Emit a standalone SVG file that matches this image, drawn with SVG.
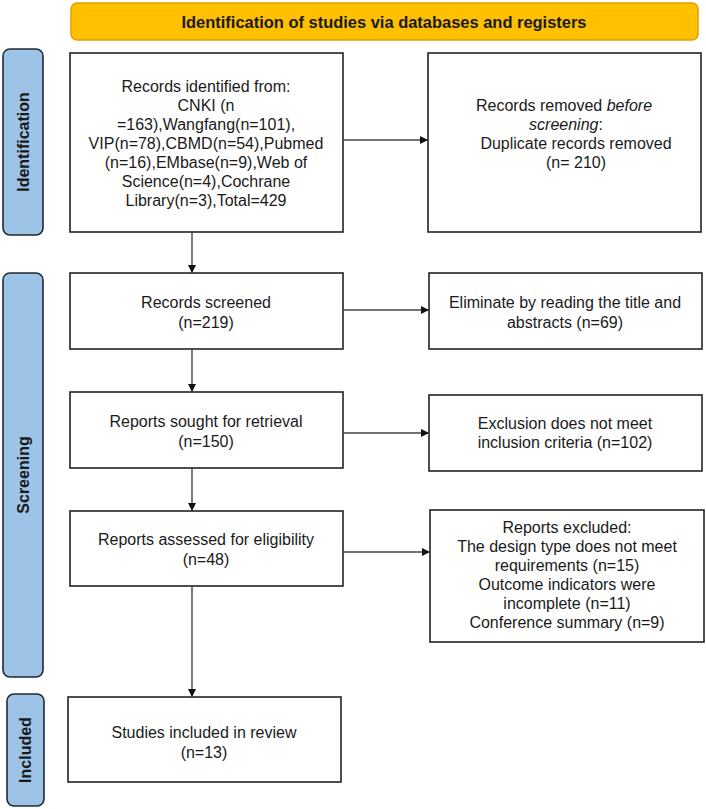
<svg xmlns="http://www.w3.org/2000/svg" width="706" height="809" viewBox="0 0 706 809">
<defs>
<marker id="ah" viewBox="0 0 10 10" refX="10" refY="5" markerWidth="8" markerHeight="8" markerUnits="userSpaceOnUse" orient="auto">
<path d="M0,0 L10,5 L0,10 z" fill="#111"/>
</marker>
<style>
.box{fill:#fff;stroke:#222;stroke-width:1.6}
.bar{fill:#9DC3E6;stroke:#1e2a36;stroke-width:1.6}
.t{font-family:"Liberation Sans",Arial,sans-serif;font-size:16px;fill:#1a1a1a;text-anchor:middle}
.lbl{font-family:"Liberation Sans",Arial,sans-serif;font-size:16px;font-weight:bold;fill:#1a1a1a;text-anchor:middle}
.c{fill:none;stroke:#444;stroke-width:1.4;marker-end:url(#ah)}
</style>
</defs>
<rect width="706" height="809" fill="#fff"/>
<g id="banner">
<rect x="71" y="3" width="627" height="37" rx="6" fill="#FFC000" stroke="#E0A000" stroke-width="1.5"/>
<text class="lbl" x="384" y="28" font-size="17" textLength="405" lengthAdjust="spacingAndGlyphs">Identification of studies via databases and registers</text>
</g>
<g id="phase-identification">
<rect class="bar" x="3" y="49" width="40" height="186" rx="7"/>
<text class="lbl" transform="translate(29,142) rotate(-90)">Identification</text>
</g>
<g id="phase-screening">
<rect class="bar" x="3" y="273" width="40" height="404" rx="7"/>
<text class="lbl" transform="translate(29,475) rotate(-90)">Screening</text>
</g>
<g id="phase-included">
<rect class="bar" x="7" y="694" width="37" height="112" rx="7"/>
<text class="lbl" transform="translate(31,750) rotate(-90)">Included</text>
</g>
<g id="records-identified">
<rect class="box" x="70" y="53" width="273" height="179"/>
<text class="t" x="206" y="92">Records identified from:</text>
<text class="t" x="206" y="111">CNKI (n</text>
<text class="t" x="206" y="130">=163),Wangfang(n=101),</text>
<text class="t" x="206" y="149">VIP(n=78),CBMD(n=54),Pubmed</text>
<text class="t" x="206" y="168">(n=16),EMbase(n=9),Web of</text>
<text class="t" x="206" y="187">Science(n=4),Cochrane</text>
<text class="t" x="206" y="206">Library(n=3),Total=429</text>
</g>
<g id="records-removed">
<rect class="box" x="428" y="53" width="273" height="179"/>
<text class="t" x="564" y="111">Records removed <tspan font-style="italic">before</tspan></text>
<text class="t" x="566" y="130"><tspan font-style="italic">screening</tspan>:</text>
<text class="t" x="576" y="149">Duplicate records removed</text>
<text class="t" x="576" y="168">(n= 210)</text>
</g>
<g id="records-screened">
<rect class="box" x="70" y="273" width="273" height="76"/>
<text class="t" x="206" y="308">Records screened</text>
<text class="t" x="206" y="328">(n=219)</text>
</g>
<g id="eliminated">
<rect class="box" x="429" y="273" width="273" height="76"/>
<text class="t" x="565" y="308">Eliminate by reading the title and</text>
<text class="t" x="565" y="328">abstracts (n=69)</text>
</g>
<g id="reports-sought">
<rect class="box" x="70" y="392" width="273" height="76"/>
<text class="t" x="206" y="427">Reports sought for retrieval</text>
<text class="t" x="206" y="447">(n=150)</text>
</g>
<g id="exclusion">
<rect class="box" x="429" y="395" width="273" height="76"/>
<text class="t" x="565" y="429">Exclusion does not meet</text>
<text class="t" x="565" y="448">inclusion criteria (n=102)</text>
</g>
<g id="reports-assessed">
<rect class="box" x="70" y="511" width="273" height="75"/>
<text class="t" x="206" y="545">Reports assessed for eligibility</text>
<text class="t" x="206" y="565">(n=48)</text>
</g>
<g id="reports-excluded">
<rect class="box" x="430" y="510" width="274" height="132"/>
<text class="t" x="567" y="533">Reports excluded:</text>
<text class="t" x="567" y="552">The design type does not meet</text>
<text class="t" x="567" y="571">requirements (n=15)</text>
<text class="t" x="567" y="590">Outcome indicators were</text>
<text class="t" x="567" y="609">incomplete (n=11)</text>
<text class="t" x="567" y="628">Conference summary (n=9)</text>
</g>
<g id="studies-included">
<rect class="box" x="68" y="697" width="273" height="85"/>
<text class="t" x="204" y="738">Studies included in review</text>
<text class="t" x="204" y="758">(n=13)</text>
</g>
<g id="connectors">
<line class="c" x1="343" y1="140" x2="428" y2="140"/>
<line class="c" x1="192" y1="232" x2="192" y2="273"/>
<line class="c" x1="343" y1="310" x2="429" y2="310"/>
<line class="c" x1="192" y1="349" x2="192" y2="392"/>
<line class="c" x1="343" y1="433" x2="429" y2="433"/>
<line class="c" x1="192" y1="468" x2="192" y2="511"/>
<line class="c" x1="343" y1="552" x2="430" y2="552"/>
<line class="c" x1="192" y1="586" x2="192" y2="697"/>
</g>
</svg>
